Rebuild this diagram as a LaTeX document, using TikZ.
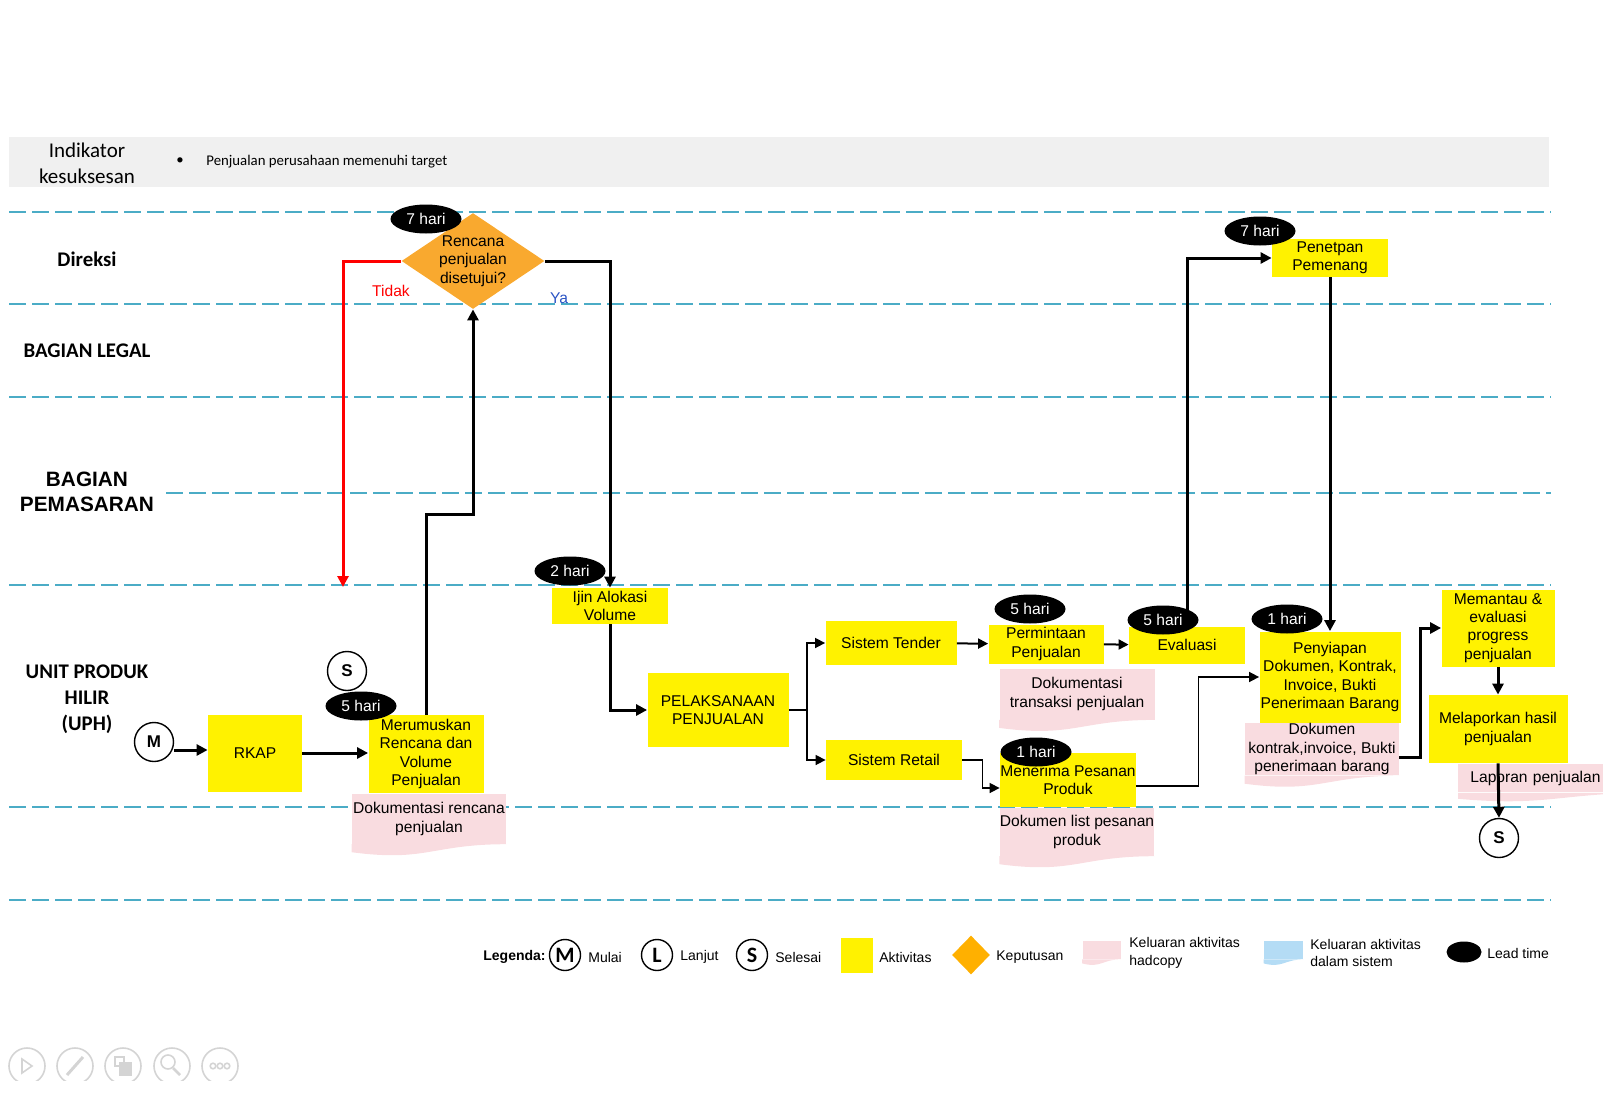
\documentclass[tikz,border=0pt]{standalone}
\usepackage{fontspec}
\setmainfont{Liberation Sans}
\newfontfamily\calibrifont{Carlito}
\usepackage{tikz}
\usepackage{xcolor}
\usetikzlibrary{positioning,shapes.geometric,arrows.meta}

\definecolor{lane-blue}{HTML}{4BACC6}
\definecolor{doc-pink}{HTML}{F9DCE0}
\definecolor{sys-blue}{HTML}{B4DCF5}
\definecolor{dec-orange}{HTML}{F9A92F}
\definecolor{leg-orange}{HTML}{FFB000}
\definecolor{band-grey}{HTML}{F0F0F0}
\definecolor{ya-blue}{HTML}{2B54C4}
\definecolor{icon-grey}{HTML}{D4D4D4}

\newcommand\actfont{\fontsize{7.8}{9.2}\selectfont}
\newcommand\legfont{\fontsize{7}{8.7}\selectfont}
% wavy bottom of a document shape: node, half width, drop, dip, colour
\newcommand\docwave[5]{\fill[#5] (#1.south west) -- (#1.south east)
  .. controls +(-#2,0) and +(#2,#4) .. ([yshift=-#3]#1.south west) -- cycle;}

\begin{document}
\begin{tikzpicture}
[
x=0.5pt, y=-0.5pt,
box-a/.style={fill=yellow, align=center, inner sep=0pt, font=\actfont},
doc-a/.style={fill=doc-pink, align=center, inner sep=0pt, font=\actfont},
time-a/.style={ellipse, fill=black, text=white, minimum width=35.5pt, minimum height=14.5pt, inner sep=0pt, font=\actfont},
conn-a/.style={circle, draw, line width=0.7pt, minimum size=19.5pt, inner sep=0pt, font=\bfseries\fontsize{8.5}{10}\selectfont},
conn-l/.style={conn-a, minimum size=15.5pt, font=\calibrifont\bfseries\fontsize{11}{12}\selectfont},
lane-a/.style={draw=lane-blue, line width=1.2pt, dash pattern=on 8.5pt off 3pt},
lane-t/.style={align=center, font=\calibrifont\bfseries\fontsize{10.4}{12.9}\selectfont},
flow-a/.style={line width=1.5pt, -{Triangle[length=5.5pt,width=5.5pt]}},
flow-b/.style={line width=0.8pt, -{Triangle[length=5pt,width=5pt]}},
text-a/.style={black, font=\actfont},
leg-t/.style={anchor=west, align=left, inner sep=0pt, font=\legfont}
]
\useasboundingbox (0,0) rectangle (1603,1108);
\clip (0,0) rectangle (1603,1108);

% header
\fill[band-grey] (9,137) rectangle (1549,187);
\node (indikator) at (87,163) [align=center, font=\calibrifont\fontsize{10.5}{13}\selectfont] {Indikator\\kesuksesan};
\node (bullet)    at (180,161) [font=\calibrifont\fontsize{7.4}{8}\selectfont] {\textbullet};
\node (target)    at (206,162) [anchor=west, inner sep=0pt, font=\calibrifont\fontsize{7.4}{8.5}\selectfont] {Penjualan perusahaan memenuhi target};

% swimlanes
\foreach \y in {212,304,397,585,807,900}
  \draw[lane-a] (9,\y) -- (1551,\y);
\draw[lane-a] (166,493) -- (1551,493);
\node (lane-dir)   at (87,259) [lane-t] {Direksi};
\node (lane-legal) at (87,351) [lane-t] {BAGIAN LEGAL};
\node (lane-pem)   at (87,492) [align=center, font=\bfseries\fontsize{10.4}{12.7}\selectfont] {BAGIAN\\PEMASARAN};
\node (lane-uph)   at (87,699) [lane-t] {UNIT PRODUK\\HILIR\\(UPH)};

% Direksi
\node (dec-plan)   at (473,261) [diamond, fill=dec-orange, minimum width=71.5pt, minimum height=48pt, inner sep=0pt] {};
\node (dec-plan-t) at (dec-plan) [text-a, align=center] {Rencana\\penjualan\\disetujui?};
\node (time-plan)  at (426,219) [time-a] {7 hari};
\node (tidak)      at (391,291) [text-a, text=red] {Tidak};
\node (ya)         at (559,298) [text-a, text=ya-blue] {Ya};
\node (penetpan)   at (1330,258) [box-a, minimum width=58pt, minimum height=19pt] {Penetpan\\Pemenang};
\node (time-pen)   at (1260,231) [time-a] {7 hari};

% UPH
\node (start-m)    at (154,742) [conn-a] {M};
\node (rkap)       at (255,753) [box-a, minimum width=47pt, minimum height=38.5pt] {RKAP};
\node (merumuskan) at (426,754) [box-a, minimum width=57.5pt, minimum height=39pt] {Merumuskan\\Rencana dan\\Volume\\Penjualan};
\node (time-mer)   at (361,706) [time-a] {5 hari};
\node (stop-s)     at (347,671) [conn-a] {S};
\node (doc-rencana) [doc-a, below = 0pt of merumuskan, xshift=1.5pt, minimum width=77pt, minimum height=25pt] {Dokumentasi rencana\\penjualan};

\node (ijin)       at (610,606) [box-a, minimum width=58pt, minimum height=18pt] {Ijin Alokasi\\Volume};
\node (time-ijin)  at (570,571) [time-a] {2 hari};
\node (pelaksanaan) at (718,710) [box-a, minimum width=70.5pt, minimum height=37pt] {PELAKSANAAN\\PENJUALAN};

\node (tender)     at (891,643) [box-a, minimum width=65.5pt, minimum height=22pt] {Sistem Tender};
\node (retail)     at (894,760) [box-a, minimum width=68pt, minimum height=20pt] {Sistem Retail};
\node (permintaan) at (1046,644) [box-a, minimum width=57.5pt, minimum height=19.5pt] {Permintaan\\Penjualan};
\node (time-perm)  at (1030,609) [time-a] {5 hari};
\node (evaluasi)   at (1187,645) [box-a, minimum width=58pt, minimum height=18.5pt] {Evaluasi};
\node (time-eval)  at (1163,620) [time-a] {5 hari};
\node (doc-transaksi) at (1077,694) [doc-a, minimum width=77.5pt, minimum height=25.5pt] {Dokumentasi\\transaksi penjualan};

\node (menerima)   at (1068,780) [box-a, minimum width=68pt, minimum height=27pt] {Menerima Pesanan\\Produk};
\node (time-men)   at (1036,752) [time-a] {1 hari};
\node (doc-list)   [doc-a, below = 0pt of menerima, xshift=4.5pt, minimum width=76.5pt, minimum height=24pt] {Dokumen list pesanan\\produk};

\node (penyiapan)  at (1330,677) [box-a, minimum width=70.5pt, minimum height=45.5pt] {Penyiapan\\Dokumen, Kontrak,\\Invoice, Bukti\\Penerimaan Barang};
\node (time-peny)  at (1287,619) [time-a] {1 hari};
\node (doc-kontrak) [doc-a, below = 0pt of penyiapan, xshift=-4pt, minimum width=77pt, minimum height=26pt] {Dokumen\\kontrak,invoice, Bukti\\penerimaan barang};

\node (memantau)   at (1498,628) [box-a, minimum width=56.5pt, minimum height=38.5pt] {Memantau \&\\evaluasi\\progress\\penjualan};
\node (melaporkan) at (1498,729) [box-a, minimum width=69.5pt, minimum height=34pt] {Melaporkan hasil\\penjualan};
\node (doc-laporan) at (1458,764) [doc-a, anchor=north west, minimum height=14pt, inner xsep=6pt, text width=84pt, align=left] {Laporan penjualan};
\node (end-s)      at (1499,838) [conn-a] {S};

% wavy bottoms
\docwave{doc-rencana}{75}{4pt}{10}{doc-pink}
\docwave{doc-transaksi}{75}{4pt}{10}{doc-pink}
\docwave{doc-list}{75}{4pt}{10}{doc-pink}
\docwave{doc-kontrak}{75}{4pt}{10}{doc-pink}
\docwave{doc-laporan}{90}{3pt}{8}{doc-pink}

% connectors
\coordinate (tidak-end)    at (343,587);
\coordinate (rencana-bend) at (473,514);
\coordinate (split)        at (807,710);
\draw[flow-a, red] (dec-plan.west) -| (tidak-end);
\draw[flow-a] (dec-plan.east) -| (ijin.north);
\draw[flow-a] ([yshift=-4pt]start-m.east) -- ([yshift=-4pt]start-m.east -| rkap.west);
\draw[flow-a] (rkap) -- (rkap -| merumuskan.west);
\draw[flow-a] (merumuskan.north) |- (rencana-bend) -- (dec-plan.south);
\draw[flow-a] (ijin.south) |- (pelaksanaan.west);
\draw[line width=0.8pt] (pelaksanaan.east) -- (split);
\draw[flow-b] (split) |- (tender.west);
\draw[flow-b] (split) |- (retail.west);
\draw[flow-b, line width=1pt] (tender) -- (permintaan);
\draw[flow-b, line width=1pt] (permintaan) -- (evaluasi);
\draw[flow-a] (evaluasi.north) |- (penetpan.west);
\draw[flow-a] (penetpan.south) -- (penyiapan.north);
\draw[flow-b] (retail.east) -- ++(20,0) |- ([yshift=-4pt]menerima.west);
\draw[flow-b] ([yshift=-3pt]menerima.east) -- ++(62,0) |- (penyiapan.west);
\draw[flow-a] ([yshift=-4pt]doc-kontrak.east) -- ++(21,0) |- (memantau.west);
\draw[flow-a] (memantau.south) -- (melaporkan.north);
\draw[flow-a] (melaporkan.south) -- (end-s.north);

% legend
\node (leg-title) at (483,957) [anchor=west, inner sep=0pt, font=\bfseries\legfont] {Legenda:};
\node (leg-m)   at (565,955) [conn-l] {M};
\node (leg-m-t) at (588,957) [leg-t] {Mulai};
\node (leg-l)   at (657,955) [conn-l] {L};
\node (leg-l-t) at (680,957) [leg-t] {Lanjut};
\node (leg-s)   at (752,955) [conn-l] {S};
\node (leg-s-t) at (775,957) [leg-t] {Selesai};
\node (leg-act) at (857,955) [box-a, minimum width=16pt, minimum height=17.5pt] {};
\node (leg-act-t) at (879,957) [leg-t] {Aktivitas};
\node (leg-dec) at (971,955) [diamond, fill=leg-orange, minimum width=19pt, minimum height=19.5pt, inner sep=0pt] {};
\node (leg-dec-t) at (996,957) [leg-t] {Keputusan};
\node (leg-hard) at (1101.5,950) [fill=doc-pink, minimum width=19pt, minimum height=9pt, inner sep=0pt] {};
\docwave{leg-hard}{19}{2pt}{5}{doc-pink}
\node (leg-hard-t) at (1129,953) [leg-t] {Keluaran aktivitas\\hadcopy};
\node (leg-sys) at (1283.5,950) [fill=sys-blue, minimum width=19.5pt, minimum height=9pt, inner sep=0pt] {};
\docwave{leg-sys}{19}{2pt}{5}{sys-blue}
\node (leg-sys-t) at (1310,953) [leg-t] {Keluaran aktivitas\\dalam sistem};
\node (leg-time) at (1464,952) [time-a, minimum width=17.5pt, minimum height=10.5pt] {};
\node (leg-time-t) at (1487,953) [leg-t] {Lead time};

% slide controls
\begin{scope}[icon-grey, line width=0.8pt]
\clip (0,1040) rectangle (260,1080);
\foreach \x in {27,75,123,172,220}
  \draw (\x,1066) circle (9pt);
\draw (22,1059) -- (22,1073) -- (32,1066) -- cycle;
\draw[line width=1.5pt] (67,1075) -- (83,1057);
\draw (115,1057) rectangle (124,1066);
\fill (119,1062) rectangle (132,1076);
\draw (168,1062) circle (3.5pt);
\draw[line width=1.3pt] (173,1068) -- (180,1075);
\foreach \x in {213,220,227}
  \draw (\x,1066) circle (1.4pt);
\end{scope}
\end{tikzpicture}
\end{document}
